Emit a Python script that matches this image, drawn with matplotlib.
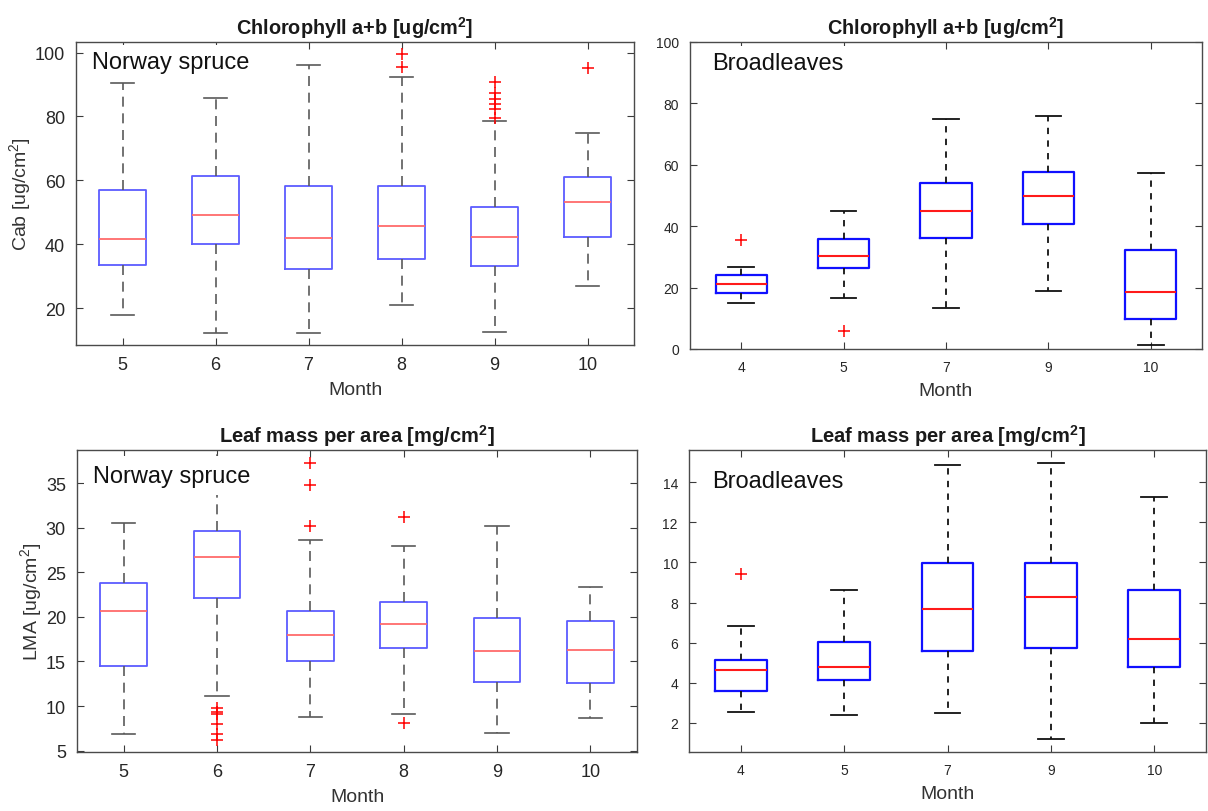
import matplotlib
matplotlib.use("Agg")
import matplotlib.pyplot as plt

plt.rcParams['font.family'] = ['Liberation Sans', 'DejaVu Sans']
plt.rcParams['mathtext.fontset'] = 'custom'
plt.rcParams['mathtext.rm'] = 'Liberation Sans'
plt.rcParams['mathtext.it'] = 'Liberation Sans:italic'
plt.rcParams['mathtext.bf'] = 'Liberation Sans:bold'

# ---- Chlorophyll a+b, Norway spruce ----
cab_spruce_months = [5, 6, 7, 8, 9, 10]
cab_spruce_lowwhisk = [17.9, 12.3, 12.2, 21.0, 12.7, 27.0]
cab_spruce_q1 = [33.6, 40.1, 32.4, 35.3, 33.1, 42.3]
cab_spruce_med = [41.6, 49.3, 42.1, 45.6, 42.3, 53.1]
cab_spruce_q3 = [57.0, 61.4, 58.2, 58.4, 51.6, 61.2]
cab_spruce_hiwhisk = [90.4, 85.8, 96.0, 92.3, 78.5, 74.7]
cab_spruce_fliers = [[], [], [], [99.4, 95.5],
                     [90.9, 87.5, 85.6, 83.8, 82.2, 79.5], [95.3]]

# ---- Chlorophyll a+b, Broadleaves ----
cab_broad_months = [4, 5, 7, 9, 10]
cab_broad_lowwhisk = [14.9, 16.7, 13.2, 18.8, 1.4]
cab_broad_q1 = [18.4, 26.4, 36.3, 40.8, 9.7]
cab_broad_med = [21.1, 30.3, 45.1, 49.9, 18.6]
cab_broad_q3 = [24.0, 35.9, 54.2, 57.8, 32.2]
cab_broad_hiwhisk = [26.6, 44.9, 74.9, 75.9, 57.2]
cab_broad_fliers = [[35.6], [6.0], [], [], []]

# ---- LMA, Norway spruce ----
lma_spruce_months = [5, 6, 7, 8, 9, 10]
lma_spruce_lowwhisk = [6.83, 11.1, 8.78, 9.07, 7.02, 8.66]
lma_spruce_q1 = [14.53, 22.15, 15.05, 16.5, 12.66, 12.62]
lma_spruce_med = [20.66, 26.67, 18.0, 19.2, 16.14, 16.32]
lma_spruce_q3 = [23.83, 29.6, 20.69, 21.66, 19.87, 19.53]
lma_spruce_hiwhisk = [30.48, 40.0, 28.57, 27.98, 30.18, 23.38]
lma_spruce_fliers = [[], [9.78, 9.30, 9.11, 7.96, 6.84, 6.20],
                     [37.24, 34.74, 30.22], [31.15, 8.1], [], []]

# ---- LMA, Broadleaves ----
lma_broad_months = [4, 5, 7, 9, 10]
lma_broad_lowwhisk = [2.56, 2.40, 2.51, 1.19, 2.0]
lma_broad_q1 = [3.61, 4.14, 5.57, 5.75, 4.80]
lma_broad_med = [4.66, 4.79, 7.69, 8.29, 6.17]
lma_broad_q3 = [5.15, 6.05, 9.97, 9.95, 8.62]
lma_broad_hiwhisk = [6.81, 8.64, 14.83, 14.93, 13.25]
lma_broad_fliers = [[9.44], [], [], [], []]


def make_stats(low, q1, med, q3, high, fliers):
    return [dict(whislo=a, q1=b, med=c, q3=d, whishi=e, fliers=f)
            for a, b, c, d, e, f in zip(low, q1, med, q3, high, fliers)]


W, H = 1208, 812
fig = plt.figure(figsize=(W / 100, H / 100), dpi=100)


def px_axes(left, right, top, bottom):
    return fig.add_axes([left / W, 1 - bottom / H, (right - left) / W, (bottom - top) / H])


def draw_panel(ax, stats, months, style, ylim, yticks, title, label, label_xy,
               ylabel=None, tick_fs=13, label_fs=14, title_fs=14, label_pad=4):
    n = len(stats)
    ax.bxp(stats, positions=range(1, n + 1), widths=0.5, capwidths=0.25,
           showfliers=True, patch_artist=False,
           boxprops=dict(color=style['box'], linewidth=style['boxlw']),
           medianprops=dict(color=style['med'], linewidth=style['medlw']),
           whiskerprops=dict(color=style['whisk'], linewidth=style['whisklw'],
                             linestyle=(0, style['dash'])),
           capprops=dict(color=style['whisk'], linewidth=style['whisklw']),
           flierprops=dict(marker='+', markeredgecolor='#ff0000',
                           markersize=8, markeredgewidth=1.1, linestyle='none'))
    ax.set_xlim(0.5, n + 0.5)
    ax.set_ylim(*ylim)
    ax.set_yticks(yticks)
    ax.set_xticks(range(1, n + 1))
    ax.set_xticklabels([str(m) for m in months])
    ax.tick_params(direction='in', length=5, width=0.8, top=True, right=True,
                   colors='#3a3a3a', labelsize=tick_fs, labelcolor='#262626', pad=8)
    for s in ax.spines.values():
        s.set_color('#4a4a4a')
        s.set_linewidth(1.0)
    ax.set_title(title, fontsize=title_fs, fontweight='bold', color='#1a1a1a', pad=6)
    ax.set_xlabel('Month', fontsize=label_fs, color='#333333', labelpad=6)
    if ylabel:
        ax.set_ylabel(ylabel, fontsize=label_fs, color='#333333', labelpad=1)
    # panel label sits on a white patch, under the frame but over the boxes
    ax.text(label_xy[0], label_xy[1], label, transform=ax.transAxes, fontsize=17,
            ha='left', va='baseline', color='#111111',
            bbox=dict(facecolor='white', edgecolor='none', pad=label_pad), zorder=2.2)


soft = dict(box='#5c5cff', boxlw=1.3, med='#ff6b6b', medlw=1.3,
            whisk='#5a5a5a', whisklw=1.2, dash=(6, 4))
crisp = dict(box='#1010ff', boxlw=1.6, med='#ff1a1a', medlw=1.5,
             whisk='#111111', whisklw=1.3, dash=(3.5, 3.5))

ax1 = px_axes(76, 634, 43, 346)
draw_panel(ax1, make_stats(cab_spruce_lowwhisk, cab_spruce_q1, cab_spruce_med,
                           cab_spruce_q3, cab_spruce_hiwhisk, cab_spruce_fliers),
           cab_spruce_months, soft, (8.5, 103.3), [20, 40, 60, 80, 100],
           r'Chlorophyll a+b [ug/cm$^\mathbf{2}$]', 'Norway spruce', (0.028, 0.915),
           ylabel=r'Cab [ug/cm$^2$]', tick_fs=13, title_fs=14.3)

ax2 = px_axes(690, 1202, 43, 350)
draw_panel(ax2, make_stats(cab_broad_lowwhisk, cab_broad_q1, cab_broad_med,
                           cab_broad_q3, cab_broad_hiwhisk, cab_broad_fliers),
           cab_broad_months, crisp, (0, 100), [0, 20, 40, 60, 80, 100],
           r'Chlorophyll a+b [ug/cm$^\mathbf{2}$]', 'Broadleaves', (0.043, 0.913),
           tick_fs=10, title_fs=14.3)

ax3 = px_axes(77, 637, 451, 753)
draw_panel(ax3, make_stats(lma_spruce_lowwhisk, lma_spruce_q1, lma_spruce_med,
                           lma_spruce_q3, lma_spruce_hiwhisk, lma_spruce_fliers),
           lma_spruce_months, soft, (4.85, 38.7), [5, 10, 15, 20, 25, 30, 35],
           r'Leaf mass per area [mg/cm$^\mathbf{2}$]', 'Norway spruce', (0.028, 0.895),
           ylabel=r'LMA [ug/cm$^2$]', tick_fs=13, title_fs=14.5, label_pad=6)

ax4 = px_axes(689, 1206, 451, 753)
draw_panel(ax4, make_stats(lma_broad_lowwhisk, lma_broad_q1, lma_broad_med,
                           lma_broad_q3, lma_broad_hiwhisk, lma_broad_fliers),
           lma_broad_months, crisp, (0.55, 15.6), [2, 4, 6, 8, 10, 12, 14],
           r'Leaf mass per area [mg/cm$^\mathbf{2}$]', 'Broadleaves', (0.045, 0.878),
           tick_fs=10, title_fs=14.5)

fig.savefig('out.png', dpi=100)
